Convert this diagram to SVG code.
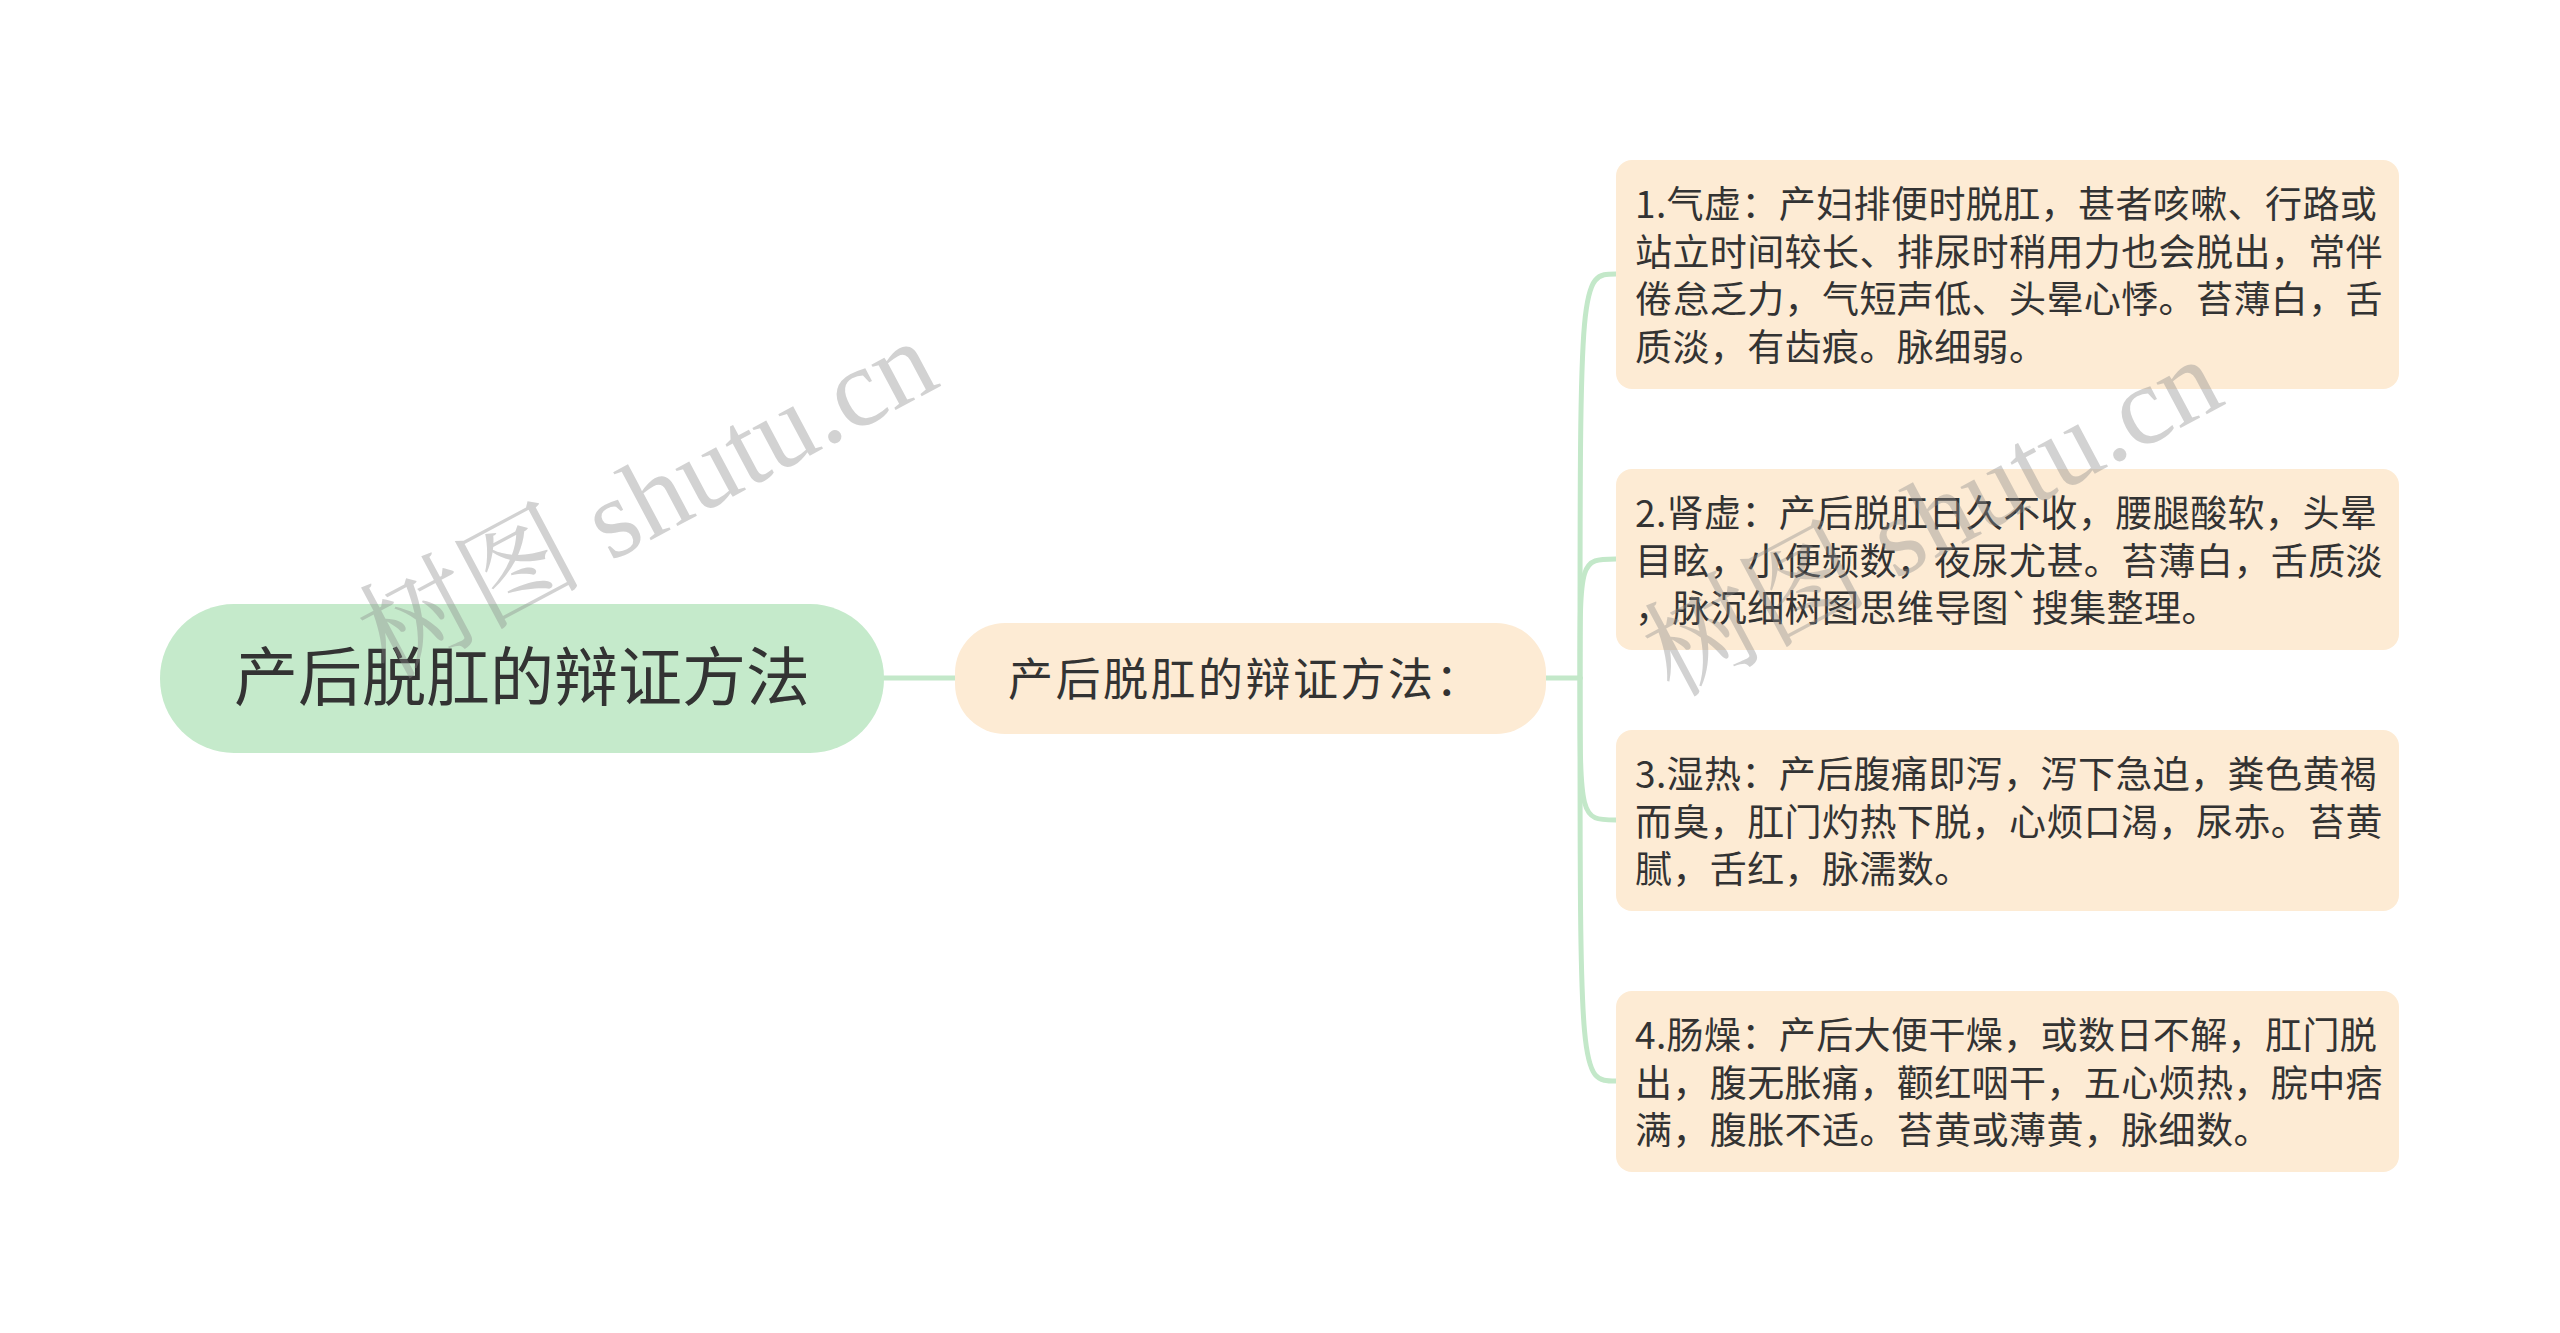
<svg xmlns="http://www.w3.org/2000/svg" width="2560" height="1333" viewBox="0 0 2560 1333">
<style>
.t{font-family:"Noto Sans CJK SC","Noto Sans",sans-serif;fill:#333333;}
.leaf{fill:#fdebd4;}
.body{font-size:37px;letter-spacing:0.4px;}
.conn{fill:none;stroke:#c3e8c9;stroke-width:5;stroke-linecap:round;}
.wm{font-family:"Liberation Serif","Noto Serif CJK SC","Noto Sans CJK SC",serif;fill:#8a8a8a;opacity:0.38;font-size:112px;}
</style>
<rect width="2560" height="1333" fill="#ffffff"/>
<g id="connectors">
<path class="conn" d="M884 678 L955 678"/>
<path class="conn" d="M1546 678 L1580 678"/>
<path class="conn" d="M1580 678 C1580 274 1580 274 1616 274"/>
<path class="conn" d="M1580 678 C1580 559 1580 559 1616 559"/>
<path class="conn" d="M1580 678 C1580 820 1580 820 1616 820"/>
<path class="conn" d="M1580 678 C1580 1081 1580 1081 1616 1081"/>
</g>
<g id="root">
<rect x="160" y="604" width="724" height="149" rx="74" fill="#c5eacb"/>
<text class="t" x="522" y="700" font-size="64" text-anchor="middle">产后脱肛的辩证方法</text>
</g>
<g id="mid">
<rect x="955" y="623" width="591" height="111" rx="50" class="leaf"/>
<text class="t" x="1008" y="696" font-size="45" letter-spacing="2.5">产后脱肛的辩证方法：</text>
</g>
<g id="n1">
<rect x="1616" y="160" width="783" height="229" rx="16" class="leaf"/>
<text class="t body"><tspan x="1635" y="218">1.气虚：产妇排便时脱肛，甚者咳嗽、行路或</tspan><tspan x="1635" y="265.5">站立时间较长、排尿时稍用力也会脱出，常伴</tspan><tspan x="1635" y="313">倦怠乏力，气短声低、头晕心悸。苔薄白，舌</tspan><tspan x="1635" y="360.5">质淡，有齿痕。脉细弱。</tspan></text>
</g>
<g id="n2">
<rect x="1616" y="469" width="783" height="181" rx="16" class="leaf"/>
<text class="t body"><tspan x="1635" y="527">2.肾虚：产后脱肛日久不收，腰腿酸软，头晕</tspan><tspan x="1635" y="574.5">目眩，小便频数，夜尿尤甚。苔薄白，舌质淡</tspan><tspan x="1635" y="622">，脉沉细树图思维导图`搜集整理。</tspan></text>
</g>
<g id="n3">
<rect x="1616" y="730" width="783" height="181" rx="16" class="leaf"/>
<text class="t body"><tspan x="1635" y="788">3.湿热：产后腹痛即泻，泻下急迫，粪色黄褐</tspan><tspan x="1635" y="835.5">而臭，肛门灼热下脱，心烦口渴，尿赤。苔黄</tspan><tspan x="1635" y="883">腻，舌红，脉濡数。</tspan></text>
</g>
<g id="n4">
<rect x="1616" y="991" width="783" height="181" rx="16" class="leaf"/>
<text class="t body"><tspan x="1635" y="1049">4.肠燥：产后大便干燥，或数日不解，肛门脱</tspan><tspan x="1635" y="1096.5">出，腹无胀痛，颧红咽干，五心烦热，脘中痞</tspan><tspan x="1635" y="1144">满，腹胀不适。苔黄或薄黄，脉细数。</tspan></text>
</g>
<g id="watermarks">
<text class="wm" x="647" y="537" text-anchor="middle" transform="rotate(-28 647 498)">树图 shutu.cn</text>
<text class="wm" x="1932" y="555" text-anchor="middle" transform="rotate(-28 1932 516)">树图 shutu.cn</text>
</g>
</svg>
